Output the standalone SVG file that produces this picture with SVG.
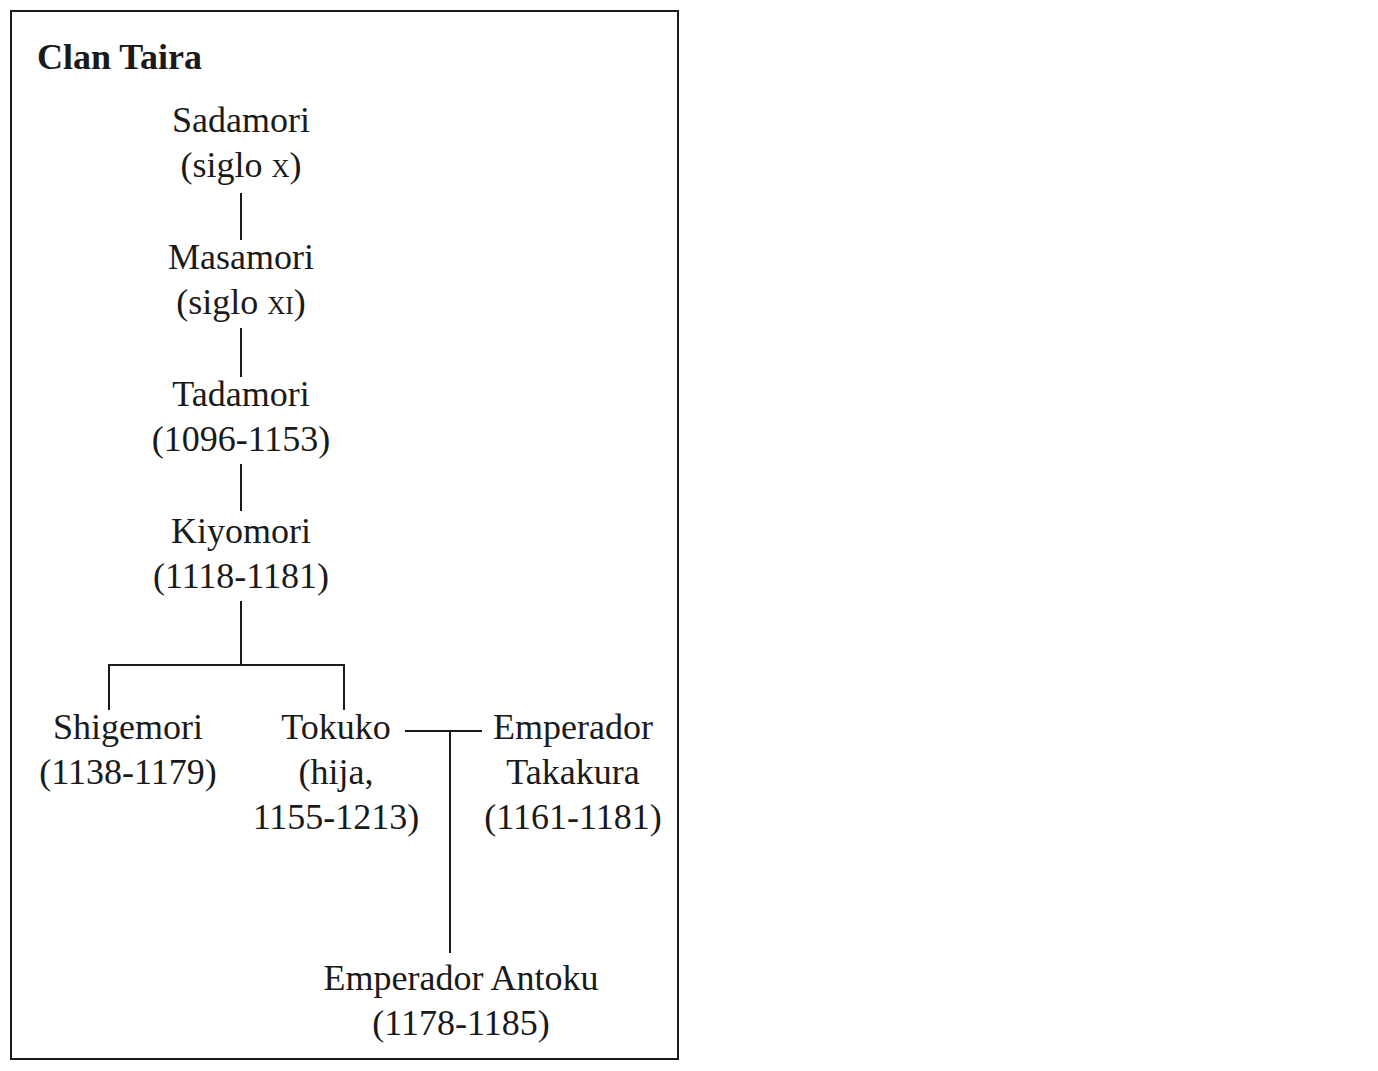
<svg xmlns="http://www.w3.org/2000/svg" width="1378" height="1071" viewBox="0 0 1378 1071">
<style>
text{font-family:"Liberation Serif","Times New Roman",serif;font-size:36px;fill:#1a1a1a;text-anchor:middle}
.t{font-weight:bold;text-anchor:start}
.sc{font-variant:small-caps}
line{stroke:#1a1a1a;stroke-width:2;fill:none}
</style>
<rect x="11" y="11" width="667" height="1048" fill="#fff" stroke="#1a1a1a" stroke-width="2"/>
<text class="t" x="37" y="69">Clan Taira</text>
<g id="connectors">
<line x1="241" y1="193" x2="241" y2="240"/>
<line x1="241" y1="328" x2="241" y2="377"/>
<line x1="241" y1="464" x2="241" y2="511"/>
<line x1="241" y1="601" x2="241" y2="665"/>
<line x1="109" y1="665" x2="344" y2="665"/>
<line x1="109" y1="664" x2="109" y2="710"/>
<line x1="344" y1="664" x2="344" y2="710"/>
<line x1="405" y1="731" x2="482" y2="731"/>
<line x1="450" y1="731" x2="450" y2="953"/>
</g>
<g id="sadamori"><text x="241" y="132">Sadamori</text><text x="241" y="177">(siglo <tspan class="sc">x</tspan>)</text></g>
<g id="masamori"><text x="241" y="269">Masamori</text><text x="241" y="314">(siglo <tspan class="sc">xi</tspan>)</text></g>
<g id="tadamori"><text x="241" y="406">Tadamori</text><text x="241" y="451">(1096-1153)</text></g>
<g id="kiyomori"><text x="241" y="543">Kiyomori</text><text x="241" y="588">(1118-1181)</text></g>
<g id="shigemori"><text x="128" y="739">Shigemori</text><text x="128" y="784">(1138-1179)</text></g>
<g id="tokuko"><text x="336" y="739">Tokuko</text><text x="336" y="784">(hija,</text><text x="336" y="829">1155-1213)</text></g>
<g id="takakura"><text x="573" y="739">Emperador</text><text x="573" y="784">Takakura</text><text x="573" y="829">(1161-1181)</text></g>
<g id="antoku"><text x="461" y="990">Emperador Antoku</text><text x="461" y="1035">(1178-1185)</text></g>
</svg>
